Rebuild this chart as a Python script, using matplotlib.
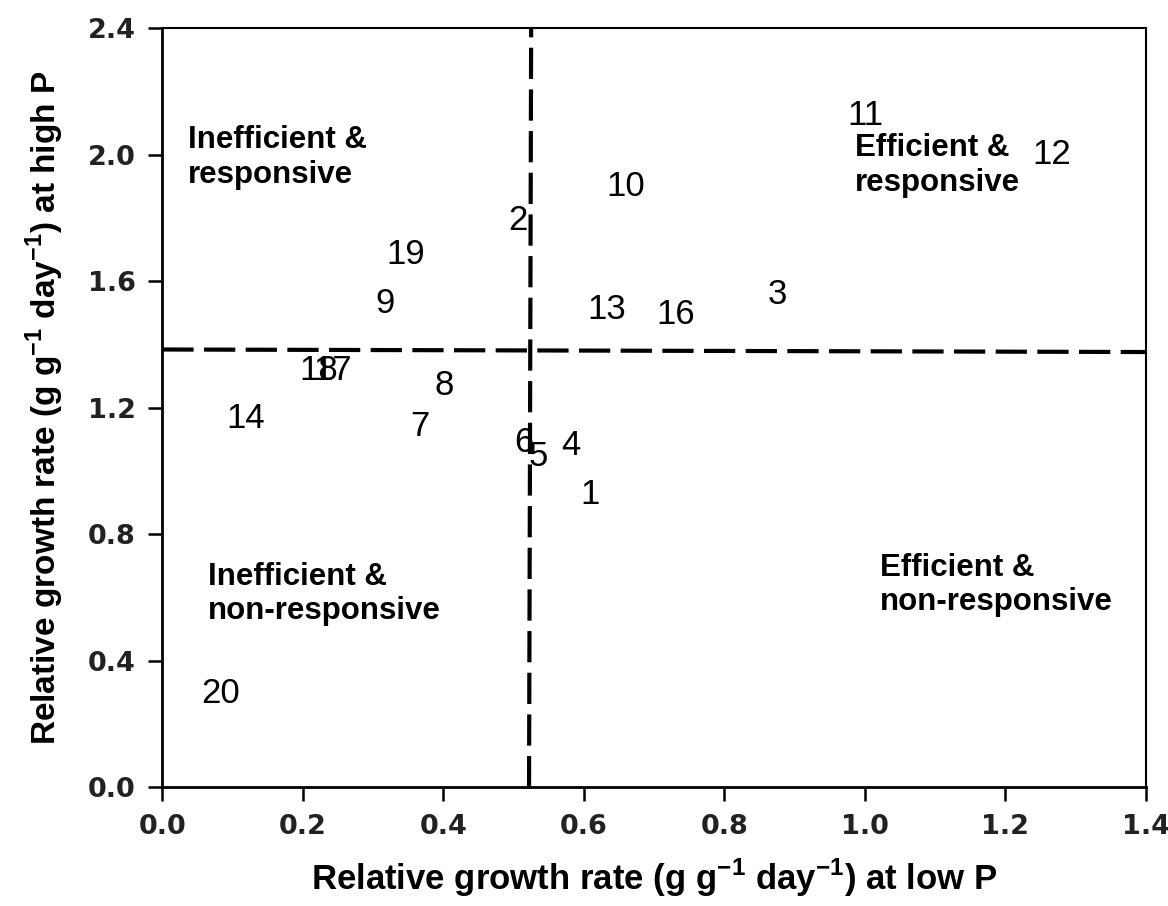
import numpy as np
import matplotlib
matplotlib.use("Agg")
from matplotlib import pyplot as plt
from matplotlib.ticker import MultipleLocator

plt.rcParams['font.family'] = ['Liberation Sans', 'DejaVu Sans']
plt.rcParams['mathtext.fontset'] = 'custom'
plt.rcParams['mathtext.bf'] = 'Liberation Sans:bold'
plt.rcParams['mathtext.rm'] = 'Liberation Sans'

# genotype labels and their growth rates
Genotype = ['1', '2', '3', '4', '5', '6', '7', '8', '9', '10',
			'11', '12', '13', '14', '16', '17', '18', '19', '20']
RGR_Low = [0.609, 0.506, 0.875, 0.582, 0.535, 0.515, 0.367, 0.401, 0.317, 0.660,
		   1.001, 1.266, 0.633, 0.118, 0.731, 0.242, 0.223, 0.346, 0.083]
RGR_High = [0.926, 1.792, 1.559, 1.080, 1.046, 1.090, 1.140, 1.269, 1.528, 1.899,
			2.123, 2.000, 1.512, 1.165, 1.496, 1.317, 1.317, 1.685, 0.296]

# quadrant dividers (mean lines)
Cut_X = [0.522, 0.525]
Cut_X_Span = [0.0, 2.4]
Cut_Y = [1.384, 1.376]
Cut_Y_Span = [0.0, 1.4]

Quadrant_Text = ['Inefficient &\nresponsive', 'Efficient &\nresponsive',
				 'Inefficient &\nnon-responsive', 'Efficient &\nnon-responsive']
Quadrant_X = [0.037, 0.986, 0.065, 1.021]
Quadrant_Y = [1.99, 1.965, 0.611, 0.639]


fig = plt.figure(figsize=(11.68, 9.06), dpi=100)
ax = fig.add_axes([0.139, 0.131, 0.842, 0.838])

for i in range(len(Genotype)):
	ax.text(RGR_Low[i], RGR_High[i], Genotype[i], ha='center', va='center', fontsize=25)

ax.plot(Cut_X, Cut_X_Span, color='black', linestyle=(0, (7.5, 2.5)), linewidth=3)
ax.plot(Cut_Y_Span, Cut_Y, color='black', linestyle=(0, (7.5, 2.5)), linewidth=3)

for i in range(len(Quadrant_Text)):
	ax.text(Quadrant_X[i], Quadrant_Y[i], Quadrant_Text[i], ha='left', va='center',
			fontsize=22.5, fontweight='bold', linespacing=1.2)

ax.set_xlim(0, 1.4)
ax.set_ylim(0, 2.4)
ax.xaxis.set_major_locator(MultipleLocator(0.2))
ax.yaxis.set_major_locator(MultipleLocator(0.4))
ax.xaxis.set_major_formatter('{x:.1f}')
ax.yaxis.set_major_formatter('{x:.1f}')

for s in ax.spines.values():
	s.set_linewidth(1.5)
ax.spines['left'].set_linewidth(2)
ax.spines['bottom'].set_linewidth(2)

ax.tick_params(direction='out', length=10, width=1.8, labelsize=19.5, pad=9)
for lab in ax.get_xticklabels() + ax.get_yticklabels():
	lab.set_fontweight('bold')
	lab.set_family('DejaVu Sans')
	lab.set_color('#222222')

ax.set_xlabel(r'Relative growth rate (g g$^{\mathbf{-1}}$ day$^{\mathbf{-1}}$) at low P',
			  fontsize=25, fontweight='bold', labelpad=12)
ax.set_ylabel(r'Relative growth rate (g g$^{\mathbf{-1}}$ day$^{\mathbf{-1}}$) at high P',
			  fontsize=24, fontweight='bold', labelpad=16)

plt.savefig('out.png', dpi=100)
